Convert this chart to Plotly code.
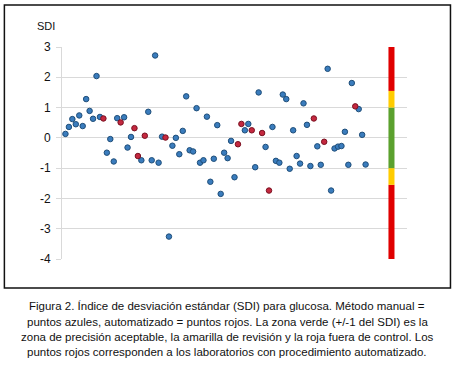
import plotly.graph_objects as go

# Lab index (x) and SDI values (y)
sdi = [0.13, 0.36, 0.62, 0.45, 0.74, 0.39, 1.28, 0.89, 0.63, 2.04,
       0.69, 0.64, -0.49, -0.04, -0.78, 0.65, 0.51, 0.68, -0.32, 0.03,
       0.32, -0.60, -0.74, 0.07, 0.86, -0.74, 2.72, -0.82, 0.04, 0.01,
       -3.26, -0.26, 0.00, -0.54, 0.23, 1.37, -0.41, -0.45, 0.98, -0.82,
       -0.74, 0.70, -1.45, -0.69, 0.42, -1.85, -0.49, -0.67, -0.10, -1.30,
       -0.21, 0.46, 0.25, 0.46, 0.25, -0.97, 1.50, 0.16, -0.30, -1.74,
       0.36, -0.76, -0.82, 1.43, 1.28, -1.02, 0.25, -0.60, -0.85, 1.14,
       0.43, -0.93, 0.64, -0.28, -0.89, -0.13, 2.28, -1.74, -0.35, -0.29,
       -0.27, 0.20, -0.89, 1.81, 1.04, 0.95, 0.10, -0.88]
# labs with automated procedure (red points), 1-based index
automated = [12, 17, 21, 22, 24, 30, 51, 52, 55, 58, 60, 73, 76, 85]

labs = list(range(1, len(sdi) + 1))
blue_x = [i for i in labs if i not in automated]
blue_y = [sdi[i - 1] for i in blue_x]
red_x = automated
red_y = [sdi[i - 1] for i in red_x]

# colour zone bar
zone_x = 95.5
zone_low = [-4, -1.55, -1, 1, 1.55]
zone_high = [-1.55, -1, 1, 1.55, 3]
zone_colors = ["#E00000", "#FFCC00", "#5BA12E", "#FFCC00", "#E00000"]

y_ticks = [3, 2, 1, 0, -1, -2, -3, -4]

caption = [
    "Figura 2. Índice de desviación estándar (SDI) para glucosa. Método manual =",
    "puntos azules, automatizado = puntos rojos. La zona verde (+/-1 del SDI) es la",
    "zona de precisión aceptable, la amarilla de revisión y la roja fuera de control. Los",
    "puntos rojos corresponden a los laboratorios con procedimiento automatizado.",
]

fig = go.Figure()
fig.add_trace(go.Bar(
    x=[zone_x] * len(zone_low),
    y=[h - l for l, h in zip(zone_low, zone_high)],
    base=zone_low,
    width=1.75,
    marker=dict(color=zone_colors, line=dict(width=0)),
    showlegend=False, hoverinfo="skip",
))
fig.add_trace(go.Scatter(
    x=blue_x, y=blue_y, mode="markers",
    marker=dict(size=5.5, color="#3A7CBD", line=dict(color="#1F4E79", width=1)),
    showlegend=False,
))
fig.add_trace(go.Scatter(
    x=red_x, y=red_y, mode="markers",
    marker=dict(size=5.5, color="#C4283F", line=dict(color="#7A1020", width=1)),
    showlegend=False,
))

font_family = "Liberation Sans Narrow, Arial Narrow, Liberation Sans, Arial, sans-serif"

fig.update_layout(
    width=455, height=365,
    margin=dict(l=62, r=48, t=47, b=106),
    paper_bgcolor="white", plot_bgcolor="white",
    barmode="overlay",
    font=dict(family=font_family, size=12, color="#111111"),
    xaxis=dict(range=[0, 100], showgrid=False, zeroline=False, showticklabels=False,
               showline=False, ticks=""),
    yaxis=dict(range=[-4, 3], tickvals=y_ticks, ticktext=[str(v) for v in y_ticks],
               showgrid=True, gridcolor="#D9D9D9", gridwidth=1,
               zeroline=False, showline=True, linecolor="#D9D9D9", linewidth=1,
               ticks="outside", ticklen=5, tickcolor="#D9D9D9",
               tickfont=dict(size=12, color="#111111"), ticklabelstandoff=3),
)

# outer border
fig.add_shape(type="rect", xref="paper", yref="paper",
              x0=-0.167, x1=1.126, y0=-0.137, y1=1.198,
              line=dict(color="#111111", width=1.5), layer="below")

fig.add_annotation(text="SDI", xref="paper", yref="paper", x=-0.046, y=1.099,
                   showarrow=False, xanchor="center", yanchor="middle",
                   font=dict(size=11, color="#111111"))

cap_y = [-0.2203, -0.2958, -0.3665, -0.4373]
for line, yy in zip(caption, cap_y):
    fig.add_annotation(text=line, xref="paper", yref="paper", x=0.4797, y=yy,
                       showarrow=False, xanchor="center", yanchor="middle",
                       font=dict(size=11.5, color="#111111"))

fig.write_html("out.html", config={"displayModeBar": False},
               post_script="document.body.style.margin='0';document.body.style.overflow='hidden';")
